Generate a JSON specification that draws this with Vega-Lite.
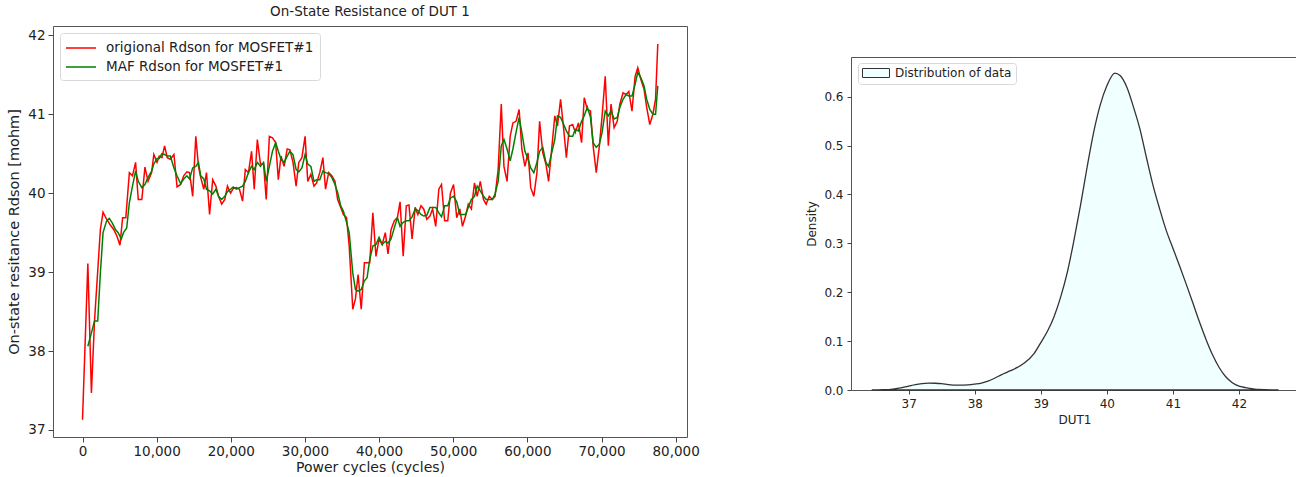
{
  "$schema": "https://vega.github.io/schema/vega-lite/v6.json",
  "padding": {"left": 6, "top": 4, "right": 0, "bottom": 0},
  "background": "white",
  "config": {
    "font": "DejaVu Sans",
    "view": {"stroke": "#555", "strokeWidth": 1},
    "axis": {"grid": false, "domain": false, "tickColor": "#444", "tickSize": 5, "labelColor": "#222", "titleColor": "#222", "titleFontWeight": "normal", "labelFont": "DejaVu Sans", "titleFont": "DejaVu Sans"},
    "legend": {"labelFont": "DejaVu Sans", "labelColor": "#222", "labelLimit": 0}
  },
  "datasets": {
    "red": [{"c":0,"v":37.13},{"c":720,"v":39.11},{"c":1200,"v":37.47},{"c":1620,"v":38.38},{"c":2410,"v":39.54},{"c":2770,"v":39.76},{"c":3250,"v":39.67},{"c":3730,"v":39.6},{"c":4210,"v":39.54},{"c":4630,"v":39.46},{"c":5050,"v":39.34},{"c":5410,"v":39.69},{"c":5840,"v":39.69},{"c":6320,"v":40.26},{"c":6740,"v":40.22},{"c":7160,"v":40.39},{"c":7520,"v":39.92},{"c":8000,"v":39.92},{"c":8420,"v":40.33},{"c":8840,"v":40.15},{"c":9320,"v":40.26},{"c":9620,"v":40.49},{"c":10050,"v":40.39},{"c":10350,"v":40.47},{"c":10710,"v":40.45},{"c":11070,"v":40.6},{"c":11430,"v":40.45},{"c":11850,"v":40.43},{"c":12330,"v":40.49},{"c":12750,"v":40.08},{"c":13230,"v":40.11},{"c":13650,"v":40.22},{"c":14080,"v":40.27},{"c":14440,"v":40.26},{"c":14860,"v":39.96},{"c":15280,"v":40.72},{"c":15640,"v":40.34},{"c":15940,"v":40.2},{"c":16360,"v":40.05},{"c":16720,"v":40.26},{"c":17140,"v":39.73},{"c":17560,"v":40.17},{"c":17990,"v":40.09},{"c":18350,"v":39.96},{"c":18770,"v":39.86},{"c":19190,"v":39.92},{"c":19550,"v":40.09},{"c":19970,"v":40.0},{"c":20330,"v":40.06},{"c":20750,"v":40.07},{"c":21170,"v":40.05},{"c":21590,"v":39.9},{"c":21960,"v":40.3},{"c":22380,"v":40.26},{"c":22800,"v":40.53},{"c":23160,"v":40.05},{"c":23580,"v":40.68},{"c":24000,"v":40.37},{"c":24420,"v":40.37},{"c":24780,"v":39.92},{"c":25200,"v":40.72},{"c":25620,"v":40.7},{"c":26050,"v":40.64},{"c":26410,"v":40.17},{"c":26770,"v":40.47},{"c":27190,"v":40.34},{"c":27610,"v":40.56},{"c":27970,"v":40.55},{"c":28390,"v":40.39},{"c":28810,"v":40.09},{"c":29170,"v":40.39},{"c":29590,"v":40.45},{"c":30020,"v":40.72},{"c":30380,"v":40.15},{"c":30800,"v":40.24},{"c":31220,"v":40.09},{"c":31580,"v":40.13},{"c":32000,"v":40.26},{"c":32420,"v":40.45},{"c":32780,"v":40.05},{"c":33200,"v":40.26},{"c":33620,"v":40.22},{"c":34050,"v":40.15},{"c":34410,"v":39.92},{"c":34830,"v":39.82},{"c":35190,"v":39.73},{"c":35610,"v":39.69},{"c":35970,"v":39.33},{"c":36450,"v":38.53},{"c":36810,"v":38.66},{"c":37170,"v":38.97},{"c":37590,"v":38.53},{"c":38020,"v":39.12},{"c":38380,"v":39.12},{"c":38740,"v":39.12},{"c":39160,"v":39.75},{"c":39580,"v":39.2},{"c":40000,"v":39.42},{"c":40420,"v":39.35},{"c":40840,"v":39.5},{"c":41200,"v":39.23},{"c":41620,"v":39.54},{"c":42050,"v":39.65},{"c":42470,"v":39.69},{"c":42830,"v":39.89},{"c":43250,"v":39.2},{"c":43670,"v":39.84},{"c":44030,"v":39.85},{"c":44450,"v":39.42},{"c":44870,"v":39.82},{"c":45230,"v":39.73},{"c":45650,"v":39.84},{"c":46020,"v":39.8},{"c":46440,"v":39.67},{"c":46860,"v":39.71},{"c":47220,"v":39.8},{"c":47640,"v":39.58},{"c":48060,"v":40.05},{"c":48420,"v":40.11},{"c":48840,"v":39.65},{"c":49260,"v":39.65},{"c":49620,"v":40.0},{"c":50050,"v":40.11},{"c":50470,"v":39.69},{"c":50890,"v":39.8},{"c":51250,"v":39.58},{"c":51670,"v":39.71},{"c":52030,"v":39.86},{"c":52450,"v":39.8},{"c":52870,"v":40.13},{"c":53230,"v":39.96},{"c":53650,"v":40.15},{"c":54080,"v":39.92},{"c":54440,"v":39.86},{"c":54860,"v":39.96},{"c":55280,"v":39.92},{"c":55640,"v":39.96},{"c":56060,"v":40.3},{"c":56480,"v":41.13},{"c":56840,"v":40.34},{"c":57260,"v":40.15},{"c":57680,"v":40.72},{"c":58050,"v":40.89},{"c":58470,"v":40.91},{"c":58890,"v":41.06},{"c":59250,"v":40.56},{"c":59670,"v":40.34},{"c":60090,"v":40.51},{"c":60450,"v":40.07},{"c":60870,"v":39.96},{"c":61290,"v":40.26},{"c":61650,"v":40.91},{"c":62080,"v":40.51},{"c":62500,"v":40.37},{"c":62860,"v":40.15},{"c":63280,"v":40.56},{"c":63700,"v":40.98},{"c":64060,"v":40.85},{"c":64480,"v":41.19},{"c":64900,"v":40.81},{"c":65260,"v":40.45},{"c":65680,"v":40.85},{"c":66110,"v":40.87},{"c":66470,"v":40.77},{"c":66890,"v":40.89},{"c":67310,"v":40.64},{"c":67670,"v":41.21},{"c":68090,"v":41.06},{"c":68510,"v":41.04},{"c":68870,"v":40.6},{"c":69290,"v":40.26},{"c":69710,"v":40.6},{"c":70080,"v":40.98},{"c":70500,"v":41.48},{"c":70920,"v":40.6},{"c":71280,"v":41.13},{"c":71700,"v":40.83},{"c":72120,"v":40.91},{"c":72480,"v":41.13},{"c":72900,"v":41.27},{"c":73320,"v":41.25},{"c":73680,"v":41.29},{"c":74110,"v":41.04},{"c":74530,"v":41.48},{"c":74890,"v":41.59},{"c":75310,"v":41.44},{"c":75730,"v":41.32},{"c":76090,"v":41.09},{"c":76510,"v":40.87},{"c":76930,"v":41.0},{"c":77290,"v":41.19},{"c":77590,"v":41.89}],
    "green": [{"c":720,"v":38.06},{"c":1200,"v":38.23},{"c":1620,"v":38.38},{"c":2050,"v":38.38},{"c":2410,"v":38.99},{"c":2770,"v":39.5},{"c":3250,"v":39.65},{"c":3610,"v":39.68},{"c":4030,"v":39.62},{"c":4450,"v":39.54},{"c":4810,"v":39.5},{"c":5230,"v":39.42},{"c":5530,"v":39.5},{"c":5960,"v":39.56},
      {"c":6320,"v":39.88},{"c":6740,"v":40.09},{"c":7160,"v":40.28},{"c":7520,"v":40.15},{"c":8000,"v":40.07},{"c":8420,"v":40.11},{"c":8840,"v":40.2},{"c":9320,"v":40.28},{"c":9620,"v":40.37},{"c":10050,"v":40.44},
      {"c":10350,"v":40.44},{"c":10710,"v":40.5},{"c":11070,"v":40.49},{"c":11430,"v":40.47},{"c":11850,"v":40.47},{"c":12330,"v":40.32},{"c":12750,"v":40.22},{"c":13230,"v":40.12},{"c":13650,"v":40.18},{"c":14080,"v":40.22},
      {"c":14440,"v":40.18},{"c":14860,"v":40.32},{"c":15280,"v":40.34},{"c":15640,"v":40.39},{"c":15940,"v":40.22},{"c":16360,"v":40.18},{"c":16720,"v":40.05},{"c":17140,"v":40.03},{"c":17560,"v":39.99},{"c":17990,"v":40.05},
      {"c":18350,"v":39.96},{"c":18770,"v":39.92},{"c":19190,"v":39.96},{"c":19550,"v":40.02},{"c":19970,"v":40.05},{"c":20330,"v":40.08},{"c":20750,"v":40.05},{"c":21170,"v":40.07},{"c":21590,"v":40.09},{"c":21960,"v":40.15},
      {"c":22380,"v":40.26},{"c":22800,"v":40.34},{"c":23160,"v":40.3},{"c":23580,"v":40.39},{"c":24000,"v":40.34},{"c":24420,"v":40.39},{"c":24780,"v":40.15},{"c":25200,"v":40.34},{"c":25620,"v":40.53},{"c":26050,"v":40.64},
      {"c":26410,"v":40.53},{"c":26770,"v":40.43},{"c":27190,"v":40.39},{"c":27610,"v":40.47},{"c":27970,"v":40.53},{"c":28390,"v":40.49},{"c":28810,"v":40.3},{"c":29170,"v":40.27},{"c":29590,"v":40.32},{"c":30020,"v":40.49},
      {"c":30380,"v":40.37},{"c":30800,"v":40.34},{"c":31220,"v":40.15},{"c":31580,"v":40.17},{"c":32000,"v":40.17},{"c":32420,"v":40.28},{"c":32780,"v":40.26},{"c":33200,"v":40.25},{"c":33620,"v":40.2},{"c":34050,"v":40.11},
      {"c":34410,"v":40.01},{"c":34830,"v":39.84},{"c":35190,"v":39.77},{"c":35610,"v":39.63},{"c":35970,"v":39.5},{"c":36450,"v":38.99},{"c":36810,"v":38.78},{"c":37170,"v":38.76},{"c":37590,"v":38.78},{"c":38020,"v":38.89},
      {"c":38380,"v":38.93},{"c":38740,"v":39.16},{"c":39160,"v":39.33},{"c":39580,"v":39.35},{"c":40000,"v":39.44},{"c":40420,"v":39.35},{"c":40840,"v":39.39},{"c":41200,"v":39.37},{"c":41620,"v":39.42},{"c":42050,"v":39.56},
      {"c":42470,"v":39.69},{"c":42830,"v":39.58},{"c":43250,"v":39.63},{"c":43670,"v":39.65},{"c":44030,"v":39.65},{"c":44450,"v":39.7},{"c":44870,"v":39.8},{"c":45230,"v":39.78},{"c":45650,"v":39.73},{"c":46020,"v":39.71},
      {"c":46440,"v":39.72},{"c":46860,"v":39.82},{"c":47220,"v":39.82},{"c":47640,"v":39.82},{"c":48060,"v":39.75},{"c":48420,"v":39.7},{"c":48840,"v":39.84},{"c":49260,"v":39.84},{"c":49620,"v":39.94},{"c":50050,"v":39.96},
      {"c":50470,"v":39.89},{"c":50890,"v":39.73},{"c":51250,"v":39.73},{"c":51670,"v":39.73},{"c":52030,"v":39.82},{"c":52450,"v":39.92},{"c":52870,"v":39.96},{"c":53230,"v":40.09},{"c":53650,"v":40.03},{"c":54080,"v":39.96},
      {"c":54440,"v":39.92},{"c":54860,"v":39.92},{"c":55280,"v":39.92},{"c":55640,"v":39.99},{"c":56060,"v":40.15},{"c":56480,"v":40.6},{"c":56840,"v":40.68},{"c":57260,"v":40.56},{"c":57680,"v":40.41},{"c":58050,"v":40.56},
      {"c":58470,"v":40.77},{"c":58890,"v":40.96},{"c":59250,"v":40.77},{"c":59670,"v":40.53},{"c":60090,"v":40.43},{"c":60450,"v":40.32},{"c":60870,"v":40.26},{"c":61290,"v":40.39},{"c":61650,"v":40.53},{"c":62080,"v":40.58},
      {"c":62500,"v":40.39},{"c":62860,"v":40.34},{"c":63280,"v":40.51},{"c":63700,"v":40.68},{"c":64060,"v":40.98},{"c":64480,"v":40.96},{"c":64900,"v":40.87},{"c":65260,"v":40.79},{"c":65680,"v":40.72},{"c":66110,"v":40.72},
      {"c":66470,"v":40.81},{"c":66890,"v":40.79},{"c":67310,"v":40.91},{"c":67670,"v":40.98},{"c":68090,"v":41.09},{"c":68510,"v":40.96},{"c":68870,"v":40.64},{"c":69290,"v":40.58},{"c":69710,"v":40.62},{"c":70080,"v":40.77},
      {"c":70500,"v":41.04},{"c":70920,"v":40.98},{"c":71280,"v":41.04},{"c":71700,"v":40.94},{"c":72120,"v":40.96},{"c":72480,"v":41.09},{"c":72900,"v":41.19},{"c":73320,"v":41.25},{"c":73680,"v":41.23},{"c":74110,"v":41.23},
      {"c":74530,"v":41.38},{"c":74890,"v":41.53},{"c":75310,"v":41.46},{"c":75730,"v":41.36},{"c":76090,"v":41.19},{"c":76510,"v":41.06},{"c":76930,"v":41.0},{"c":77290,"v":41.0},{"c":77590,"v":41.36}],
    "kde": [{"x":36.44,"d":0},{"x":36.6,"d":0.0005},{"x":36.76,"d":0.002},{"x":36.9,"d":0.005},{"x":37.0,"d":0.008},{"x":37.1,"d":0.011},{"x":37.2,"d":0.013},{"x":37.3,"d":0.014},{"x":37.4,"d":0.0138},{"x":37.5,"d":0.013},{"x":37.6,"d":0.011},{"x":37.75,"d":0.0098},{"x":37.9,"d":0.0105},{"x":38.0,"d":0.012},{"x":38.1,"d":0.014},{"x":38.2,"d":0.018},{"x":38.3,"d":0.024},{"x":38.4,"d":0.031},{"x":38.5,"d":0.037},{"x":38.6,"d":0.043},{"x":38.75,"d":0.055},{"x":38.9,"d":0.075},{"x":39.0,"d":0.097},{"x":39.1,"d":0.12},{"x":39.2,"d":0.15},{"x":39.3,"d":0.19},{"x":39.4,"d":0.24},{"x":39.5,"d":0.305},{"x":39.6,"d":0.377},{"x":39.7,"d":0.455},{"x":39.8,"d":0.527},{"x":39.9,"d":0.583},{"x":40.0,"d":0.622},{"x":40.12,"d":0.648},{"x":40.2,"d":0.643},{"x":40.3,"d":0.62},{"x":40.4,"d":0.58},{"x":40.5,"d":0.534},{"x":40.6,"d":0.475},{"x":40.7,"d":0.418},{"x":40.8,"d":0.37},{"x":40.9,"d":0.326},{"x":41.0,"d":0.29},{"x":41.1,"d":0.254},{"x":41.2,"d":0.217},{"x":41.3,"d":0.179},{"x":41.4,"d":0.14},{"x":41.5,"d":0.104},{"x":41.6,"d":0.072},{"x":41.7,"d":0.046},{"x":41.8,"d":0.027},{"x":41.9,"d":0.015},{"x":42.0,"d":0.008},{"x":42.1,"d":0.005},{"x":42.3,"d":0.001},{"x":42.6,"d":0}]
  },
  "resolve": {"legend": {"color": "independent", "fill": "independent"}, "scale": {"color": "independent", "fill": "independent"}},
  "bounds": "flush",
  "spacing": 164,
  "hconcat": [
    {
      "width": 634,
      "height": 411,
      "title": {"text": "On-State Resistance of DUT 1", "fontSize": 13.5, "fontWeight": "normal", "color": "#222", "offset": 8, "font": "DejaVu Sans"},
      "layer": [
        {
          "data": {"name": "red"},
          "mark": {"type": "line", "strokeWidth": 1.5},
          "encoding": {
            "x": {"field": "c", "type": "quantitative", "scale": {"domain": [-3980, 81530], "nice": false, "zero": false},
                  "axis": {"values": [0, 10000, 20000, 30000, 40000, 50000, 60000, 70000, 80000], "format": ",d", "title": "Power cycles (cycles)", "labelFontSize": 13.5, "titleFontSize": 14, "labelPadding": 2, "titlePadding": 3}},
            "y": {"field": "v", "type": "quantitative", "scale": {"domain": [36.911, 42.118], "nice": false, "zero": false},
                  "axis": {"values": [37, 38, 39, 40, 41, 42], "format": "d", "title": "On-state resitance Rdson [mohm]", "labelFontSize": 13.5, "titleFontSize": 14.5, "labelPadding": 3, "titlePadding": 6}},
            "color": {"datum": "origional Rdson for MOSFET#1", "type": "nominal",
                      "scale": {"domain": ["origional Rdson for MOSFET#1", "MAF Rdson for MOSFET#1"], "range": ["#ff0000", "#008000"]},
                      "legend": {"title": null, "orient": "top-left", "offset": 7, "padding": 6, "strokeColor": "#d8d8d8", "fillColor": "white", "cornerRadius": 3, "labelFontSize": 13.5, "labelLimit": 0, "symbolType": "M-1.125,0H2.625", "symbolSize": 256, "symbolStrokeWidth": 1.5, "labelOffset": 22, "rowPadding": 3}}
          }
        },
        {
          "data": {"name": "green"},
          "mark": {"type": "line", "strokeWidth": 1.5},
          "encoding": {
            "x": {"field": "c", "type": "quantitative"},
            "y": {"field": "v", "type": "quantitative"},
            "color": {"datum": "MAF Rdson for MOSFET#1", "type": "nominal"}
          }
        }
      ]
    },
    {
      "bounds": "flush",
      "spacing": 0,
      "vconcat": [
        {
          "width": 447,
          "height": 31,
          "data": {"values": []},
          "mark": "point",
          "view": {"stroke": null}
        },
        {
          "width": 447,
          "height": 333,
          "data": {"name": "kde"},
          "mark": {"type": "area", "stroke": "#333", "strokeWidth": 1.3, "interpolate": "monotone"},
          "encoding": {
            "x": {"field": "x", "type": "quantitative", "scale": {"domain": [36.126, 42.894], "nice": false, "zero": false},
                  "axis": {"values": [37, 38, 39, 40, 41, 42], "format": "d", "title": "DUT1", "labelFontSize": 12, "titleFontSize": 12, "tickSize": 4, "labelPadding": 4, "titlePadding": 5}},
            "y": {"field": "d", "type": "quantitative", "scale": {"domain": [0, 0.681], "nice": false},
                  "axis": {"values": [0, 0.1, 0.2, 0.3, 0.4, 0.5, 0.6], "format": ".1f", "title": "Density", "labelFontSize": 12, "titleFontSize": 12, "tickSize": 4, "labelPadding": 4, "titlePadding": 5}},
            "fill": {"datum": "Distribution of data", "type": "nominal", "scale": {"range": ["#f0ffff"]},
                     "legend": {"title": null, "orient": "none", "legendX": 7, "legendY": 37, "padding": 4, "strokeColor": "#d8d8d8", "fillColor": "white", "cornerRadius": 3, "labelFontSize": 12, "labelLimit": 0, "symbolType": "M-1.1,-0.9H4.3V0.9H-1.1Z", "symbolSize": 100, "symbolStrokeColor": "#333", "symbolStrokeWidth": 1, "symbolFillColor": "#f0ffff", "labelOffset": 21}}
          }
        }
      ]
    }
  ]
}
